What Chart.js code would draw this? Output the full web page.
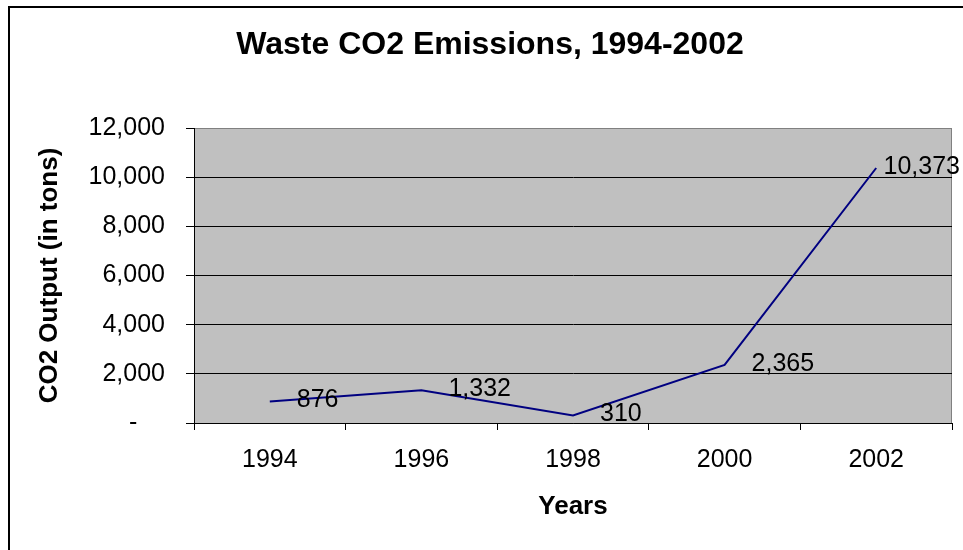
<!DOCTYPE html>
<html>
<head>
<meta charset="utf-8">
<title>Waste CO2 Emissions</title>
<script src="https://cdn.jsdelivr.net/npm/chart.js@4/dist/chart.umd.min.js"></script>
<style>
  html, body { margin: 0; padding: 0; background: #fff; }
  #wrap { width: 963px; height: 550px; }
</style>
</head>
<body>
<div id="wrap"><canvas id="co2Chart" width="963" height="550"></canvas></div>
<script>
// Waste CO2 output per survey year (tons)
const years = ['1994', '1996', '1998', '2000', '2002'];
const co2Tons = [876, 1332, 310, 2365, 10373];
const yTicks = [0, 2000, 4000, 6000, 8000, 10000, 12000];
const chartTitle = 'Waste CO2 Emissions, 1994-2002';

const FONT = "'Liberation Sans', Arial, sans-serif";
const fmt = v => v.toLocaleString('en-US');

// white page, frame line, title and grey plot background
const backdrop = {
    id: 'backdrop',
    beforeDraw(chart) {
        const { ctx, chartArea: a } = chart;
        ctx.save();
        ctx.fillStyle = '#fff';
        ctx.fillRect(0, 0, chart.width, chart.height);
        ctx.strokeStyle = '#000';
        ctx.lineWidth = 2;
        ctx.strokeRect(9, 7, chart.width + 20, chart.height + 20);

        ctx.fillStyle = '#000';
        ctx.font = 'bold 32px ' + FONT;
        ctx.textAlign = 'center';
        ctx.textBaseline = 'middle';
        ctx.fillText(chartTitle, 490, 45.5);

        ctx.fillStyle = '#c0c0c0';
        ctx.fillRect(a.left, a.top, a.right - a.left, a.bottom - a.top);
        ctx.strokeStyle = '#808080';
        ctx.lineWidth = 1;
        ctx.beginPath();
        ctx.moveTo(a.left, a.top + 0.5);
        ctx.lineTo(a.right - 0.5, a.top + 0.5);
        ctx.lineTo(a.right - 0.5, a.bottom);
        ctx.stroke();
        ctx.restore();
    }
};

// value labels to the right of each point, kept inside the canvas
const valueLabels = {
    id: 'valueLabels',
    afterDatasetsDraw(chart) {
        const { ctx } = chart;
        const meta = chart.getDatasetMeta(0);
        ctx.save();
        ctx.font = '25px ' + FONT;
        ctx.fillStyle = '#000';
        ctx.textBaseline = 'middle';
        ctx.textAlign = 'left';
        meta.data.forEach((pt, i) => {
            const text = fmt(co2Tons[i]);
            const w = ctx.measureText(text).width;
            let x = pt.x + 27;
            if (x + w > chart.width - 3) x = chart.width - 3 - w;
            ctx.fillText(text, x, pt.y - 1);
        });
        ctx.restore();
    }
};

new Chart(document.getElementById('co2Chart'), {
    type: 'line',
    data: {
        labels: years,
        datasets: [{
            data: co2Tons,
            borderColor: '#000080',
            borderWidth: 2,
            pointRadius: 0,
            tension: 0,
            fill: false
        }]
    },
    options: {
        responsive: false,
        animation: false,
        layout: { padding: { left: 0, right: 11, top: 128, bottom: 0 } },
        plugins: {
            legend: { display: false },
            tooltip: { enabled: false },
            title: { display: false }
        },
        scales: {
            x: {
                offset: true,
                grid: {
                    offset: true,
                    drawOnChartArea: false,
                    drawTicks: true,
                    tickLength: 7,
                    color: '#000',
                    tickColor: '#000'
                },
                border: { color: '#000', width: 1 },
                ticks: { color: '#000', padding: 15, font: { family: FONT, size: 25 } },
                title: {
                    display: true,
                    text: 'Years',
                    color: '#000',
                    font: { family: FONT, size: 26, weight: 'bold', lineHeight: 1.2 },
                    padding: { top: 0, bottom: 28 }
                },
                afterFit(scale) { scale.height = 127; }
            },
            y: {
                min: 0,
                max: 12000,
                afterBuildTicks(scale) { scale.ticks = yTicks.map(v => ({ value: v })); },
                grid: {
                    color: ctx => ctx.tick && ctx.tick.value === 12000 ? '#808080' : '#000',
                    tickColor: '#000',
                    tickLength: 8,
                    lineWidth: 1
                },
                border: { color: '#000', width: 1 },
                ticks: {
                    color: '#000',
                    padding: 21,
                    font: { family: FONT, size: 25 },
                    callback: v => v === 0 ? '-    ' : fmt(v)
                },
                title: {
                    display: true,
                    text: 'CO2 Output (in tons)',
                    color: '#000',
                    font: { family: FONT, size: 26, weight: 'bold', lineHeight: 1.2 },
                    padding: { top: 34, bottom: 0 }
                },
                afterFit(scale) { scale.width = 194; }
            }
        }
    },
    plugins: [backdrop, valueLabels]
});
</script>
</body>
</html>
